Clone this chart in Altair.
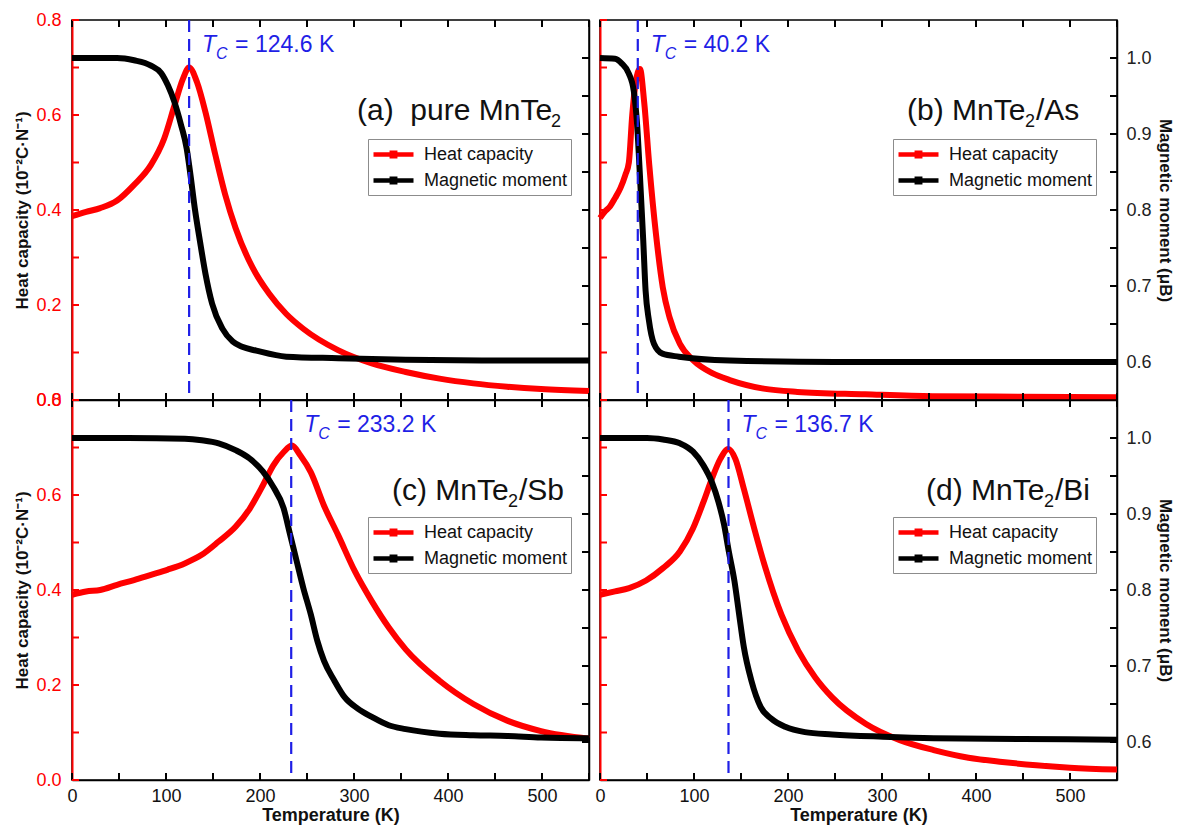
import altair as alt
import pandas as pd

# ---------------- data ----------------
# (a) pure MnTe2
A_HEAT_T = [0, 15, 30, 48, 66, 84, 98, 109, 118, 124.5, 133, 142, 152.5, 163, 174, 192, 210, 228, 246, 283, 319, 355, 391, 427, 463, 499, 550]
A_HEAT_V = [0.387, 0.396, 0.404, 0.42, 0.453, 0.495, 0.55, 0.62, 0.676, 0.70, 0.669, 0.606, 0.516, 0.432, 0.362, 0.279, 0.223, 0.181, 0.15, 0.105, 0.077, 0.059, 0.045, 0.035, 0.028, 0.023, 0.019]
A_MAG_T = [0, 20, 48, 66, 84, 95, 102, 109, 116, 122, 125.5, 131, 136, 142, 149, 160, 171, 181, 196, 228, 283, 355, 450, 550]
A_MAG_V = [1.0, 1.0, 1.0, 0.997, 0.99, 0.98, 0.964, 0.942, 0.912, 0.881, 0.851, 0.799, 0.76, 0.716, 0.677, 0.644, 0.627, 0.62, 0.615, 0.607, 0.605, 0.603, 0.602, 0.602]

# (b) MnTe2/As
B_HEAT_T = [0, 5.4, 10.8, 16, 21.7, 27, 30.7, 34.3, 38, 42.5, 47, 52.4, 59.6, 66.8, 74, 85, 99, 120, 138, 174, 210, 282, 354, 450, 550]
B_HEAT_V = [0.383, 0.397, 0.408, 0.425, 0.446, 0.474, 0.50, 0.60, 0.669, 0.697, 0.627, 0.495, 0.348, 0.237, 0.174, 0.118, 0.084, 0.056, 0.042, 0.024, 0.017, 0.012, 0.008, 0.007, 0.006]
B_MAG_T = [0, 16, 23, 30.5, 36, 39.5, 42.4, 46, 48.5, 52, 57.4, 66.4, 84, 138, 250, 400, 550]
B_MAG_V = [1.0, 0.999, 0.993, 0.98, 0.956, 0.912, 0.847, 0.76, 0.694, 0.655, 0.624, 0.611, 0.607, 0.602, 0.600, 0.600, 0.600]

# (c) MnTe2/Sb
C_HEAT_T = [0, 15, 30, 48, 66, 84, 102, 120, 138, 156, 174, 189, 203, 214, 225, 234, 243, 254, 268, 283, 301, 319, 337, 355, 391, 427, 463, 499, 550]
C_HEAT_V = [0.39, 0.397, 0.40, 0.411, 0.421, 0.432, 0.443, 0.456, 0.474, 0.502, 0.533, 0.571, 0.62, 0.662, 0.69, 0.704, 0.683, 0.648, 0.578, 0.516, 0.439, 0.376, 0.321, 0.275, 0.209, 0.16, 0.125, 0.103, 0.087]
C_MAG_T = [0, 60, 120, 138, 156, 174, 189, 203, 214, 225, 232, 239, 246, 254, 261, 268, 279, 290, 304, 319, 337, 355, 391, 427, 463, 499, 550]
C_MAG_V = [1.0, 1.0, 0.999, 0.997, 0.993, 0.984, 0.973, 0.956, 0.936, 0.908, 0.873, 0.838, 0.803, 0.768, 0.733, 0.707, 0.681, 0.659, 0.644, 0.633, 0.622, 0.617, 0.611, 0.609, 0.608, 0.606, 0.605]

# (d) MnTe2/Bi
D_HEAT_T = [0, 16, 31, 49, 67, 85, 99, 110, 119, 128, 136.5, 144, 153, 164, 175, 193, 211, 229, 247, 283, 319, 355, 392, 428, 464, 500, 550]
D_HEAT_V = [0.39, 0.397, 0.404, 0.42, 0.446, 0.481, 0.53, 0.585, 0.634, 0.676, 0.697, 0.676, 0.613, 0.53, 0.453, 0.348, 0.272, 0.216, 0.174, 0.118, 0.084, 0.063, 0.047, 0.038, 0.031, 0.026, 0.022]
D_MAG_T = [0, 50, 67, 85, 99, 110, 119, 126, 132, 137, 143, 148, 153, 161, 171, 182, 197, 218, 247, 301, 355, 450, 550]
D_MAG_V = [1.0, 1.0, 0.998, 0.993, 0.982, 0.964, 0.942, 0.916, 0.886, 0.851, 0.812, 0.768, 0.725, 0.681, 0.646, 0.631, 0.62, 0.613, 0.61, 0.607, 0.605, 0.604, 0.603]

# panel titles, split round the subscript "2"
LABEL_HEAD = ["(a)\u00a0\u00a0pure MnTe", "(b) MnTe", "(c) MnTe", "(d) MnTe"]
LABEL_SUB = ["2", "2", "2", "2"]
LABEL_TAIL = ["", "/As", "/Sb", "/Bi"]
TC_VALUES = [124.6, 40.2, 233.2, 136.7]
TC_TEXT = ["124.6", "40.2", "233.2", "136.7"]
SERIES = ["Heat capacity", "Magnetic moment"]

X_TICKS = [0, 50, 100, 150, 200, 250, 300, 350, 400, 450, 500, 550]
H_TICKS = [0.0, 0.1, 0.2, 0.3, 0.4, 0.5, 0.6, 0.7, 0.8]
M_TICKS = [0.6, 0.65, 0.7, 0.75, 0.8, 0.85, 0.9, 0.95, 1.0]

# ---------------- styling ----------------
RED = "#ff0000"
BLUE = "#1f1fe6"
FONT = "Liberation Sans"
W, H = 517, 380
X_DOM, H_DOM, M_DOM = [0, 550], [0, 0.8], [0.55, 1.05]
TICK_PX = 7
TICK_W = 2
LABEL_FS = 30
SUB_FS = 18
LABEL_START = [285, 307, 320, 326]
HEAD_W = [194, 118, 116, 118]
SUB_W = 11
SYMBOL = "M-1,0H3M0.83,-0.17H1.17V0.17H0.83Z"

xscale = alt.Scale(domain=X_DOM, nice=False, zero=False)
hscale = alt.Scale(domain=H_DOM, nice=False, zero=False)
mscale = alt.Scale(domain=M_DOM, nice=False, zero=False)
cscale = alt.Scale(domain=SERIES, range=[RED, "#000000"])

# tick lengths expressed in data units of each scale
DX = (X_DOM[1] - X_DOM[0]) * TICK_PX / W
DH = (H_DOM[1] - H_DOM[0]) * TICK_PX / H
DM = (M_DOM[1] - M_DOM[0]) * TICK_PX / H


def x_axis(show):
    kw = dict(orient="bottom", values=X_TICKS, ticks=False, tickSize=0,
              domainColor="black", domainWidth=1.5, grid=False,
              labelOverlap=False, labelFlush=False)
    if show:
        kw.update(labelExpr="datum.value % 100 === 0 ? datum.label : ''",
                  labelPadding=7, labelColor="#111", labelFontSize=18,
                  title="Temperature (K)", titleFontWeight="bold", titleFontSize=18,
                  titlePadding=1, titleColor="#111")
    else:
        kw.update(labels=False, title=None)
    return alt.Axis(**kw)


def h_axis(show):
    kw = dict(orient="left", values=H_TICKS, ticks=False, tickSize=0,
              domainColor=RED, domainWidth=2, grid=False,
              labelOverlap=False, labelFlush=False)
    if show:
        kw.update(labelExpr="round(datum.value * 10) % 2 === 0 ? format(datum.value, '.1f') : ''",
                  labelPadding=11, labelColor=RED, labelFontSize=18,
                  title="Heat capacity (10\u207b\u00b2C\u00b7N\u207b\u00b9)",
                  titleFontWeight="bold", titleFontSize=17, titlePadding=4,
                  titleColor="#111")
    else:
        kw.update(labels=False, title=None)
    return alt.Axis(**kw)


def m_axis(show):
    kw = dict(orient="right", values=M_TICKS, ticks=False, tickSize=0,
              domainColor="black", domainWidth=1.5, grid=False,
              labelOverlap=False, labelFlush=False)
    if show:
        kw.update(labelExpr="round(datum.value * 100) % 10 === 0 ? format(datum.value, '.1f') : ''",
                  labelPadding=9, labelColor="#222", labelFontSize=18,
                  title="Magnetic moment (\u03bcB)", titleFontWeight="bold",
                  titleFontSize=17, titlePadding=4, titleColor="#111")
    else:
        kw.update(labels=False, title=None)
    return alt.Axis(**kw)


def tick_layers():
    xt = pd.DataFrame({"t": X_TICKS, "b0": H_DOM[0], "b1": H_DOM[0] + DH,
                       "u0": H_DOM[1], "u1": H_DOM[1] - DH})
    ht = pd.DataFrame({"v": H_TICKS, "x0": X_DOM[0], "x1": X_DOM[0] + DX})
    mt = pd.DataFrame({"v": M_TICKS, "x0": X_DOM[1], "x1": X_DOM[1] - DX})
    bottom = alt.Chart(xt).mark_rule(color="black", strokeWidth=TICK_W).encode(
        x=alt.X("t:Q", scale=xscale, axis=None),
        y=alt.Y("b0:Q", scale=hscale, axis=None), y2="b1:Q")
    top = alt.Chart(xt).mark_rule(color="black", strokeWidth=TICK_W).encode(
        x=alt.X("t:Q", scale=xscale, axis=None),
        y=alt.Y("u0:Q", scale=hscale, axis=None), y2="u1:Q")
    left = alt.Chart(ht).mark_rule(color=RED, strokeWidth=TICK_W).encode(
        y=alt.Y("v:Q", scale=hscale, axis=None),
        x=alt.X("x0:Q", scale=xscale, axis=None), x2="x1:Q")
    right = alt.Chart(mt).mark_rule(color="black", strokeWidth=TICK_W).encode(
        y=alt.Y("v:Q", scale=mscale, axis=None),
        x=alt.X("x0:Q", scale=xscale, axis=None), x2="x1:Q")
    return [bottom, top, left, right]


def panel(i, heat_t, heat_v, mag_t, mag_v, left_col, bottom_row, lx, ly):
    heat_df = pd.DataFrame({"T": heat_t, "v": heat_v, "s": SERIES[0]})
    mag_df = pd.DataFrame({"T": mag_t, "v": mag_v, "s": SERIES[1]})
    ann = pd.DataFrame({
        "tc": [TC_VALUES[i]], "ty": [0.732],
        "t1": ["T"], "t2": ["C"], "t3": ["= " + TC_TEXT[i] + " K"],
        "lx": [0], "ly": [0.59],
        "head": [LABEL_HEAD[i]], "sub": [LABEL_SUB[i]], "tail": [LABEL_TAIL[i]],
    })
    legend = alt.Legend(orient="none", legendX=lx, legendY=ly, title=None,
                        symbolType=SYMBOL, symbolSize=400, symbolStrokeWidth=4.5,
                        labelFontSize=18, labelFont=FONT, labelColor="#111",
                        strokeColor="#8c8c8c", padding=3, rowPadding=2,
                        labelOffset=28, fillColor="white")
    color = alt.Color("s:N", scale=cscale, legend=legend)

    heat = alt.Chart(heat_df).mark_line(strokeWidth=6, interpolate="monotone").encode(
        x=alt.X("T:Q", scale=xscale, axis=x_axis(bottom_row)),
        y=alt.Y("v:Q", scale=hscale, axis=h_axis(left_col)),
        color=color,
    )
    mag = alt.Chart(mag_df).mark_line(strokeWidth=6, interpolate="monotone").encode(
        x=alt.X("T:Q", scale=xscale, axis=None),
        y=alt.Y("v:Q", scale=mscale, axis=m_axis(not left_col)),
        color=color,
    )
    rule = alt.Chart(ann).mark_rule(color=BLUE, strokeDash=[12, 7], strokeWidth=2.2).encode(
        x=alt.X("tc:Q", scale=xscale, axis=None),
    )
    tbase = alt.Chart(ann).encode(
        x=alt.X("tc:Q", scale=xscale, axis=None),
        y=alt.Y("ty:Q", scale=hscale, axis=None),
    )
    t1 = tbase.mark_text(align="left", baseline="alphabetic", dx=13, fontSize=23,
                         fontStyle="italic", color=BLUE, font=FONT).encode(text="t1:N")
    t2 = tbase.mark_text(align="left", baseline="alphabetic", dx=27, dy=7, fontSize=16,
                         fontStyle="italic", color=BLUE, font=FONT).encode(text="t2:N")
    t3 = tbase.mark_text(align="left", baseline="alphabetic", dx=46, fontSize=23,
                         color=BLUE, font=FONT).encode(text="t3:N")
    lbase = alt.Chart(ann).encode(
        x=alt.X("lx:Q", scale=xscale, axis=None),
        y=alt.Y("ly:Q", scale=hscale, axis=None),
    )
    x0 = LABEL_START[i]
    l1 = lbase.mark_text(align="left", baseline="alphabetic", dx=x0, fontSize=LABEL_FS,
                         color="#111", font=FONT).encode(text="head:N")
    l2 = lbase.mark_text(align="left", baseline="alphabetic", dx=x0 + HEAD_W[i], dy=7,
                         fontSize=SUB_FS, color="#111", font=FONT).encode(text="sub:N")
    l3 = lbase.mark_text(align="left", baseline="alphabetic", dx=x0 + HEAD_W[i] + SUB_W,
                         fontSize=LABEL_FS, color="#111", font=FONT).encode(text="tail:N")
    layers = [heat, mag] + tick_layers() + [rule, t1, t2, t3, l1, l2, l3]
    return (alt.layer(*layers)
            .resolve_scale(y="independent")
            .resolve_axis(x="independent", y="independent")
            .properties(width=W, height=H))


pa = panel(0, A_HEAT_T, A_HEAT_V, A_MAG_T, A_MAG_V, True, False, 296, 119)
pb = panel(1, B_HEAT_T, B_HEAT_V, B_MAG_T, B_MAG_V, False, False, 293, 119)
pc = panel(2, C_HEAT_T, C_HEAT_V, C_MAG_T, C_MAG_V, True, True, 296, 117)
pd_ = panel(3, D_HEAT_T, D_HEAT_V, D_MAG_T, D_MAG_V, False, True, 293, 117)

chart = (alt.concat(pa, pb, pc, pd_, columns=2, spacing={"row": 0, "column": 11}, bounds="flush")
         .resolve_scale(color="independent")
         .resolve_legend(color="independent")
         .configure(padding={"left": 5, "top": 2, "right": 0, "bottom": 0}, font=FONT)
         .configure_view(stroke="black", strokeWidth=1.5)
         .configure_axis(labelFont=FONT, titleFont=FONT))

chart.save("out.html", embed_options={"renderer": "svg", "actions": False})
